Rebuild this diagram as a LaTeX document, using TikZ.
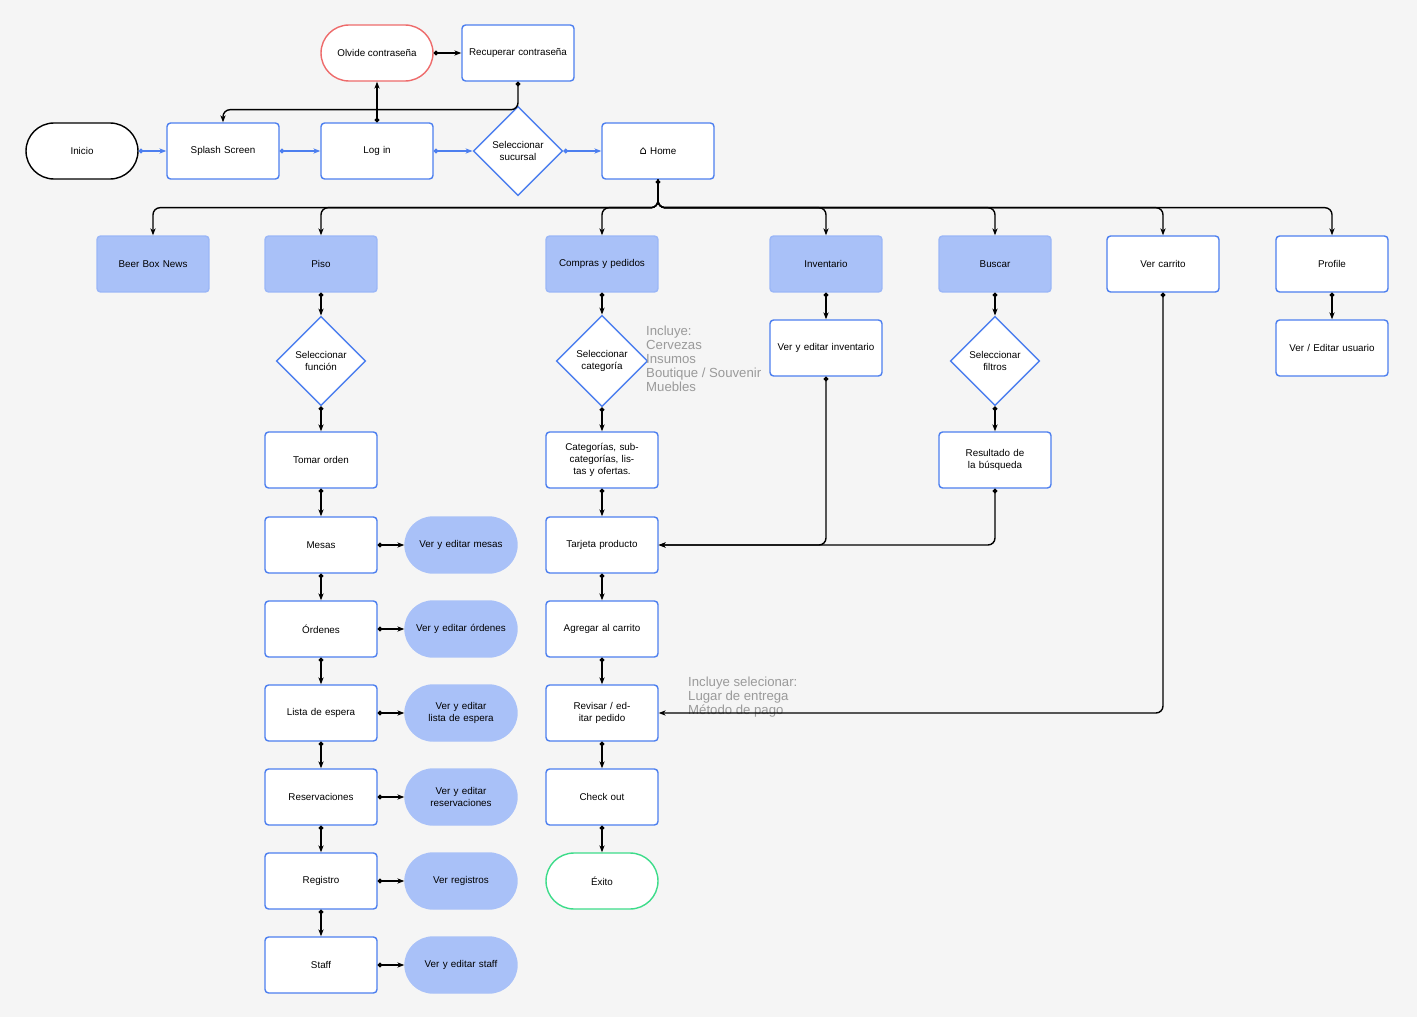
\documentclass[tikz,border=0pt]{standalone}
\usepackage{fontspec}
\setmainfont{Liberation Sans}
\newfontfamily\symfont{DejaVu Sans}
\usetikzlibrary{shapes.geometric,arrows.meta,positioning}
\definecolor{bgcol}{HTML}{F5F5F5}
\definecolor{boxblue}{HTML}{4D7FEF}
\definecolor{fillblue}{HTML}{A9C1F8}
\definecolor{stopred}{HTML}{EE6B6B}
\definecolor{okgreen}{HTML}{3DDC8A}
\definecolor{notegray}{HTML}{9A9A9A}

\begin{document}
\begin{tikzpicture}[
    x=0.02cm, y=-0.02cm,
    every node/.style={font=\fontsize{5.6}{7}\selectfont, align=center},
    screen/.style={rectangle, rounded corners=2pt, draw=boxblue, fill=white, line width=0.8pt, minimum width=2.24cm, minimum height=1.12cm, text width=2.0cm},
    section/.style={screen, fill=fillblue, draw=fillblue!85!boxblue},
    action/.style={rectangle, rounded corners=0.56cm, draw=fillblue, fill=fillblue, line width=0.8pt, minimum width=2.24cm, minimum height=1.12cm, text width=1.9cm},
    terminal/.style={rectangle, rounded corners=0.56cm, line width=0.8pt, fill=white, minimum width=2.24cm, minimum height=1.12cm},
    choice/.style={diamond, draw=boxblue, fill=white, line width=0.8pt, minimum width=1.62cm, minimum height=1.64cm, inner sep=0pt, text width=1.4cm},
    note/.style={font=\fontsize{7.5}{8}\selectfont, text=notegray, align=left, anchor=north west},
    link/.style={{Circle[length=2.6pt]}-{Stealth[length=4pt]}, line width=0.8pt, rounded corners=4pt},
    drop/.style={-{Stealth[length=4pt]}, line width=0.8pt, rounded corners=4pt},
    flow/.style={link, draw=boxblue}
]
    % background
    \fill[bgcol] (0,0) rectangle (1417,1017);

    % top row
    \node[terminal, draw=black] (inicio) at (82,151) {Inicio};
    \node[screen] (splash) at (223,151) {Splash Screen};
    \node[screen] (login) at (377,151) {Log in};
    \node[choice] (sucursal) at (518,151) {Seleccionar sucursal};
    \node[screen] (home) at (658,151) {{\symfont\fontsize{6.5}{7}\selectfont ⌂} Home};
    \node[terminal, draw=stopred] (olvide) at (377,53) {Olvide contraseña};
    \node[screen] (recuperar) at (518,53) {Recuperar contraseña};

    % sections
    \node[section] (news) at (153,264) {Beer Box News};
    \node[section] (piso) at (321,264) {Piso};
    \node[section] (compras) at (602,264) {Compras y pedidos};
    \node[section] (inventario) at (826,264) {Inventario};
    \node[section] (buscar) at (995,264) {Buscar};
    \node[screen] (carrito) at (1163,264) {Ver carrito};
    \node[screen] (profile) at (1332,264) {Profile};

    % piso
    \node[choice] (funcion) at (321,361) {Seleccionar función};
    \node[screen] (tomar) at (321,460) {Tomar orden};
    \node[screen] (mesas) at (321,545) {Mesas};
    \node[screen] (ordenes) at (321,629) {Órdenes};
    \node[screen] (espera) at (321,713) {Lista de espera};
    \node[screen] (reserv) at (321,797) {Reservaciones};
    \node[screen] (registro) at (321,881) {Registro};
    \node[screen] (staff) at (321,965) {Staff};
    \node[action] (vmesas) at (461,545) {Ver y editar mesas};
    \node[action] (vordenes) at (461,629) {Ver y editar órdenes};
    \node[action] (vespera) at (461,713) {Ver y editar lista de espera};
    \node[action] (vreserv) at (461,797) {Ver y editar reservaciones};
    \node[action] (vregistro) at (461,881) {Ver registros};
    \node[action] (vstaff) at (461,965) {Ver y editar staff};

    % compras
    \node[choice] (categoria) at (602,361) {Seleccionar categoría};
    \node[screen] (categorias) at (602,460) {Categorías, subcategorías, listas y ofertas.};
    \node[screen] (tarjeta) at (602,545) {Tarjeta producto};
    \node[screen] (agregar) at (602,629) {Agregar al carrito};
    \node[screen] (revisar) at (602,713) {Revisar / editar pedido};
    \node[screen] (checkout) at (602,797) {Check out};
    \node[terminal, draw=okgreen] (exito) at (602,881) {Éxito};

    % inventario, buscar, profile
    \node[screen] (vinventario) at (826,348) {Ver y editar inventario};
    \node[choice] (filtros) at (995,361) {Seleccionar filtros};
    \node[screen] (resultado) at (995,460) {Resultado de la búsqueda};
    \node[screen] (usuario) at (1332,348) {Ver / Editar usuario};

    % notes
    \node[note] (notecat) at (640,320) {Incluye:\\Cervezas\\Insumos\\Boutique / Souvenir\\Muebles};
    \node[note] (noterev) at (682,671) {Incluye selecionar:\\Lugar de entrega\\Método de pago};

    % top connectors
    \draw[flow] (inicio) -- (splash);
    \draw[flow] (splash) -- (login);
    \draw[flow] (login) -- (sucursal);
    \draw[flow] (sucursal) -- (home);
    \draw[link] (login.north) -- (olvide.south);
    \draw[link] (olvide) -- (recuperar);
    \draw[link] (recuperar.south) -- ++(0,28) -| (splash.north);

    % home bus
    \draw[link] (home.south) -- ++(0,28) -| (news.north);
    \foreach \sec in {piso,compras,inventario,buscar,carrito,profile}
        \draw[drop] (home.south) -- ++(0,28) -| (\sec.north);

    % columns
    \draw[link] (piso) -- (funcion);
    \draw[link] (funcion) -- (tomar);
    \draw[link] (tomar) -- (mesas);
    \draw[link] (mesas) -- (ordenes);
    \draw[link] (ordenes) -- (espera);
    \draw[link] (espera) -- (reserv);
    \draw[link] (reserv) -- (registro);
    \draw[link] (registro) -- (staff);
    \draw[link] (mesas) -- (vmesas);
    \draw[link] (ordenes) -- (vordenes);
    \draw[link] (espera) -- (vespera);
    \draw[link] (reserv) -- (vreserv);
    \draw[link] (registro) -- (vregistro);
    \draw[link] (staff) -- (vstaff);

    \draw[link] (compras) -- (categoria);
    \draw[link] (categoria) -- (categorias);
    \draw[link] (categorias) -- (tarjeta);
    \draw[link] (tarjeta) -- (agregar);
    \draw[link] (agregar) -- (revisar);
    \draw[link] (revisar) -- (checkout);
    \draw[link] (checkout) -- (exito);

    \draw[link] (inventario) -- (vinventario);
    \draw[link] (vinventario.south) |- (tarjeta.east);
    \draw[link] (buscar) -- (filtros);
    \draw[link] (filtros) -- (resultado);
    \draw[link] (resultado.south) |- (tarjeta.east);
    \draw[link] (carrito.south) |- (revisar.east);
    \draw[link] (profile) -- (usuario);
\end{tikzpicture}
\end{document}
